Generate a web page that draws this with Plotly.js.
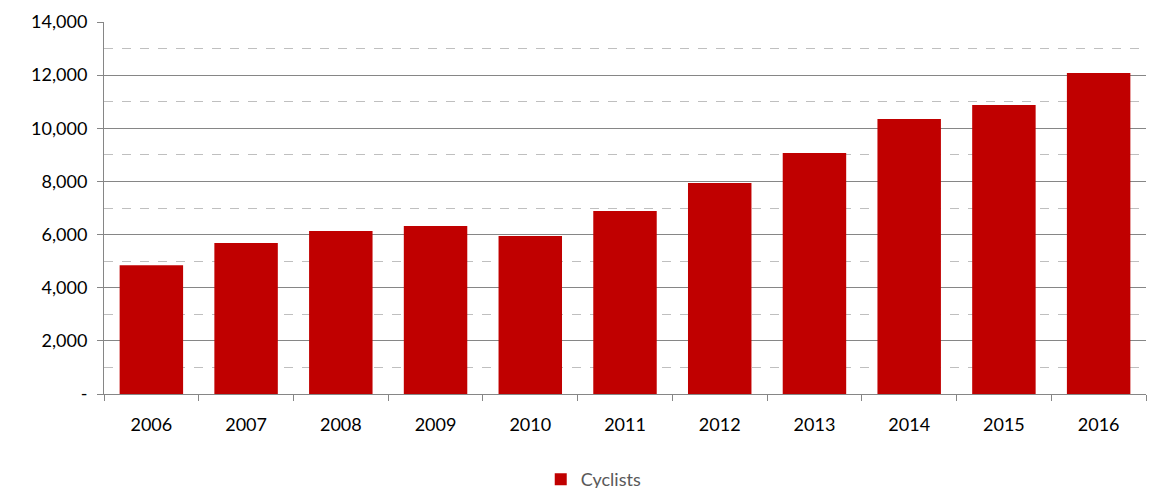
<!DOCTYPE html>
<html>
<head>
<script src="https://cdn.plot.ly/plotly-3.0.1.min.js"></script>
<style>body{margin:0;background:#fff}</style>
</head>
<body>
<div id="chart" style="width:1151px;height:488px"></div>
<script>
var years = ['2006','2007','2008','2009','2010','2011','2012','2013','2014','2015','2016'];
var cyclists = [4850, 5680, 6130, 6320, 5950, 6890, 7940, 9070, 10350, 10880, 12080];
var yTicks = [0, 2000, 4000, 6000, 8000, 10000, 12000, 14000];
var yLabels = ['-', '2,000', '4,000', '6,000', '8,000', '10,000', '12,000', '14,000'];

var trace = {
    x: years,
    y: cyclists,
    name: 'Cyclists',
    type: 'bar',
    marker: { color: '#c00000' }
};

var layout = {
    width: 1151,
    height: 488,
    margin: { l: 104, r: 5, t: 22, b: 94 },
    font: { family: 'Lato, "Open Sans", sans-serif', size: 18, color: '#000' },
    bargap: 0.33,
    showlegend: true,
    legend: {
        orientation: 'h', x: 0.47, xanchor: 'center',
        yref: 'container', y: 0.055, yanchor: 'top',
        font: { color: '#595959', size: 18 }
    },
    xaxis: {
        type: 'category',
        showline: true, linecolor: '#868686', linewidth: 1,
        ticks: 'outside', tickson: 'boundaries', ticklen: 6, tickcolor: '#868686',
        ticklabelstandoff: 14,
        showgrid: false
    },
    yaxis: {
        range: [0, 14000],
        tickvals: yTicks, ticktext: yLabels,
        showline: true, linecolor: '#868686',
        ticks: 'outside', ticklen: 6, tickcolor: '#868686',
        ticklabelstandoff: 6,
        gridcolor: '#868686', gridwidth: 1,
        zeroline: false,
        minor: { dtick: 1000, showgrid: true, gridcolor: '#bfbfbf', griddash: 'dash', ticks: '' }
    },
    plot_bgcolor: '#fff',
    paper_bgcolor: '#fff'
};

Plotly.newPlot('chart', [trace], layout, { displayModeBar: false });
</script>
</body>
</html>
